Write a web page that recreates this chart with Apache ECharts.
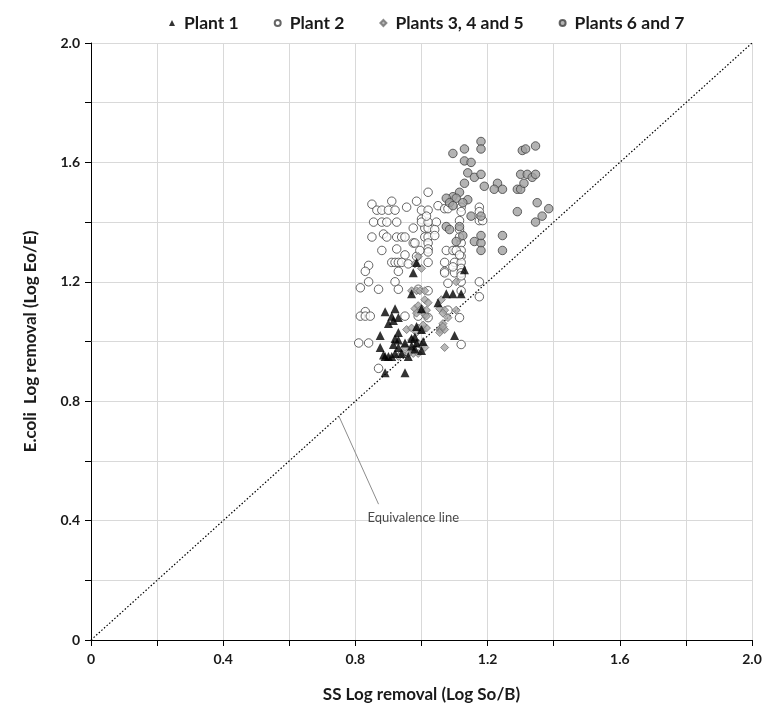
<!DOCTYPE html>
<html><head><meta charset="utf-8">
<script src="https://cdn.jsdelivr.net/npm/echarts@6/dist/echarts.min.js"></script>
<style>html,body{margin:0;padding:0;background:#fff}#c{width:775px;height:710px}</style>
</head><body><div id="c"></div>
<script>
const seriesNames = ['Plant 1', 'Plant 2', 'Plants 3, 4 and 5', 'Plants 6 and 7'];
const xTicks = [0, 0.4, 0.8, 1.2, 1.6, 2.0];
const plant1 = [
[0.89,1.10],[0.92,1.11],[0.97,1.16],[0.975,1.23],[0.985,1.265],[1.0,1.11],[0.91,1.085],[0.93,1.08],
[0.90,1.06],[0.915,1.07],[0.875,1.02],[0.93,1.03],[0.985,1.05],[1.0,1.04],[0.92,1.01],[0.93,1.005],
[0.875,0.98],[0.89,0.95],[0.90,0.95],[0.91,0.95],[0.92,0.96],[0.94,0.96],[0.93,0.98],[0.95,0.995],
[0.97,1.01],[0.98,1.015],[0.985,0.995],[1.0,0.97],[0.98,0.975],[0.89,0.895],[0.95,0.895],[1.10,1.02],
[1.05,1.13],[1.075,1.16],[1.095,1.16],[1.12,1.16],[1.13,1.24],[1.005,1.0],[0.96,0.95],[0.885,0.955],
[0.915,0.99],[0.97,0.985]
];
const plant2 = [
[0.85,1.46],[0.865,1.44],[0.88,1.44],[0.90,1.44],[0.92,1.44],[0.91,1.47],[0.955,1.45],[0.985,1.47],
[1.02,1.50],[0.855,1.40],[0.88,1.40],[0.895,1.40],[0.925,1.40],[0.85,1.35],[0.885,1.36],[0.895,1.35],
[0.925,1.35],[0.94,1.35],[0.95,1.35],[0.975,1.38],[1.01,1.38],[1.02,1.38],[1.0,1.44],[1.02,1.44],
[1.0,1.41],[1.0,1.40],[1.02,1.40],[1.01,1.35],[1.02,1.35],[0.975,1.33],[0.88,1.305],[0.925,1.31],
[1.02,1.33],[1.02,1.31],[0.95,1.29],[0.98,1.33],[0.985,1.285],[1.02,1.30],[1.02,1.265],[0.91,1.265],
[0.92,1.265],[0.93,1.265],[0.94,1.265],[0.96,1.26],[0.84,1.255],[0.83,1.235],[0.93,1.235],[0.815,1.18],
[0.84,1.20],[0.87,1.175],[0.92,1.20],[0.93,1.175],[0.99,1.175],[1.02,1.17],[0.83,1.10],[0.815,1.085],
[0.83,1.085],[0.845,1.085],[0.95,1.085],[0.99,1.085],[1.02,1.08],[0.81,0.995],[0.84,0.995],[0.87,0.91],
[1.08,1.195],[1.08,1.105],[1.10,1.23],[1.07,1.265],[1.07,1.235],[1.10,1.305],[1.10,1.265],[1.075,1.305],
[1.095,1.305],[1.12,1.33],[1.12,1.305],[1.12,1.285],[1.12,1.265],[1.12,1.245],[1.12,1.23],[1.12,1.20],
[1.175,1.20],[1.175,1.15],[1.12,1.17],[1.115,1.08],[1.12,0.99],[1.05,1.455],[1.07,1.445],[1.08,1.445],
[1.12,1.45],[1.12,1.435],[1.175,1.45],[1.175,1.435],[1.015,1.42],[1.045,1.40],[1.04,1.375],[1.04,1.355],
[1.115,1.405],[1.115,1.375],[1.115,1.35],[1.175,1.405],[1.185,1.405],[1.105,1.305],[1.115,1.29],[0.995,1.305],
[1.095,1.25],[1.07,1.23],[1.12,1.22]
];
const plants345 = [
[0.99,1.285],[0.98,1.26],[1.0,1.245],[0.97,1.17],[0.985,1.17],[0.995,1.17],[1.01,1.17],[1.01,1.14],
[1.02,1.13],[0.98,1.11],[0.99,1.12],[1.0,1.11],[0.985,1.095],[1.01,1.09],[1.015,1.085],[0.955,1.04],
[0.97,1.045],[0.99,1.045],[1.005,1.04],[0.985,1.03],[1.015,1.045],[0.97,1.005],[0.99,0.995],[0.95,0.98],
[0.97,0.97],[0.975,0.96],[0.99,0.96],[1.0,0.985],[0.96,0.96],[0.94,0.96],[0.93,0.95],[1.06,1.14],
[1.055,1.11],[1.07,1.105],[1.055,1.04],[1.06,1.04],[1.065,1.06],[1.07,1.04],[1.07,0.98],[1.08,1.08],
[1.105,1.105],[1.065,1.095],[1.055,1.03],[1.015,1.105],[1.005,1.055],[1.01,0.98],[1.105,1.20],[1.065,1.05]
];
const plants67 = [
[1.18,1.67],[1.18,1.645],[1.13,1.645],[1.095,1.63],[1.13,1.605],[1.15,1.60],[1.14,1.565],[1.16,1.55],
[1.18,1.56],[1.13,1.53],[1.19,1.52],[1.115,1.50],[1.095,1.485],[1.075,1.48],[1.105,1.48],[1.14,1.475],
[1.085,1.465],[1.125,1.465],[1.095,1.455],[1.075,1.385],[1.085,1.375],[1.115,1.385],[1.15,1.42],[1.18,1.42],
[1.125,1.355],[1.105,1.335],[1.16,1.335],[1.18,1.33],[1.18,1.355],[1.18,1.305],[1.23,1.53],[1.22,1.51],
[1.245,1.51],[1.29,1.51],[1.30,1.51],[1.30,1.56],[1.31,1.53],[1.32,1.56],[1.335,1.55],[1.345,1.56],
[1.305,1.64],[1.315,1.645],[1.345,1.655],[1.35,1.465],[1.385,1.445],[1.29,1.435],[1.365,1.42],[1.345,1.40],
[1.245,1.355],[1.245,1.305]
];
const equivalence = [[0, 0], [2, 2]];
const leader = [[0.75, 0.75], [0.87, 0.455]];
const noteText = 'Equivalence line';
const notePos = [0.975, 0.41];

const FONT = 'Lato';
const chart = echarts.init(document.getElementById('c'));
const fmt = v => {
  const k = Math.round(v * 10);
  if (k % 4 !== 0) return '';
  return k === 0 ? '0' : (k / 10).toFixed(1);
};
const axisCommon = {
  type: 'value', min: 0, max: 2, interval: 0.2,
  axisLine: { show: true, onZero: false, lineStyle: { color: '#000', width: 1 } },
  axisTick: { show: true, inside: false, length: 6, lineStyle: { color: '#000' } },
  splitLine: { show: true, lineStyle: { color: '#d9d9d9', width: 1 } },
  axisLabel: { formatter: fmt, color: '#1a1a1a', fontFamily: FONT, fontWeight: 'bold', fontSize: 14 },
  nameLocation: 'middle',
  nameTextStyle: { color: '#1a1a1a', fontFamily: FONT, fontWeight: 'bold', fontSize: 17 }
};
chart.setOption({
  animation: false,
  textStyle: { fontFamily: FONT },
  grid: { left: 91, right: 23, top: 43, bottom: 70, containLabel: false },
  legend: {
    top: 9, left: 164,
    itemWidth: 6, itemHeight: 6, itemGap: 35,
    data: seriesNames,
    textStyle: { fontFamily: FONT, fontWeight: 'bold', fontSize: 17.5, color: '#1a1a1a', padding: [0, 0, 0, 4] }
  },
  xAxis: Object.assign({}, axisCommon, {
    name: 'SS Log removal (Log So/B)', nameGap: 46,
    axisLabel: Object.assign({}, axisCommon.axisLabel, { margin: 12 })
  }),
  yAxis: Object.assign({}, axisCommon, {
    name: 'E.coli  Log removal (Log Eo/E)', nameGap: 52,
    axisLabel: Object.assign({}, axisCommon.axisLabel, { margin: 11 })
  }),
  series: [
    { name: 'eq', type: 'line', data: equivalence, symbol: 'none', silent: true,
      lineStyle: { color: '#000', width: 1.2, type: [1.5, 2] }, z: 1 },
    { name: 'leader', type: 'line', data: leader, symbol: 'none', silent: true,
      lineStyle: { color: '#8c8c8c', width: 1 }, z: 1 },
    { name: 'note', type: 'scatter', data: [notePos], symbolSize: 0, silent: true,
      label: { show: true, position: 'inside', formatter: noteText, color: '#1a1a1a', fontFamily: FONT, fontSize: 13 } },
    { name: seriesNames[1], type: 'scatter', data: plant2, symbol: 'circle', symbolSize: 8.5,
      itemStyle: { color: '#ffffff', borderColor: '#404040', borderWidth: 1 }, z: 3 },
    { name: seriesNames[3], type: 'scatter', data: plants67, symbol: 'circle', symbolSize: 8.5,
      itemStyle: { color: '#a0a0a0', borderColor: '#404040', borderWidth: 1 }, z: 4 },
    { name: seriesNames[2], type: 'scatter', data: plants345, symbol: 'diamond', symbolSize: 8,
      itemStyle: { color: '#a6a6a6', borderColor: '#707070', borderWidth: 1 }, z: 5 },
    { name: seriesNames[0], type: 'scatter', data: plant1, symbol: 'triangle', symbolSize: 9,
      itemStyle: { color: '#000000' }, z: 6 }
  ]
});
</script></body></html>
